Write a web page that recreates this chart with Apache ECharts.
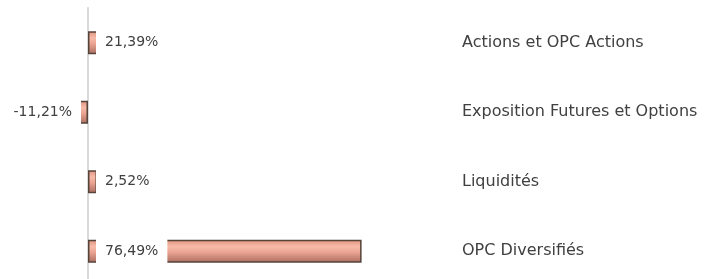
<!DOCTYPE html>
<html lang="fr">
<head>
    <meta charset="UTF-8">
    <title>Répartition</title>
    <style>
        html, body { margin: 0; padding: 0; background: #fff; }
        .box { width: 705px; height: 279px; }
    </style>
</head>
<body>
    <div class="box"></div>
    <script src="https://cdn.jsdelivr.net/npm/echarts@6/dist/echarts.min.js"></script>
    <script>
        var categories = ['Actions et OPC Actions', 'Exposition Futures et Options', 'Liquidités', 'OPC Diversifiés'];
        var values = [21.39, -11.21, 2.52, 76.49];

        var myChart = echarts.init(document.getElementsByClassName('box')[0]);

        function fmt(v) {
            return v.toFixed(2).replace('.', ',') + '%';
        }

        // bar fill with a bevel-ish look
        var barColor = new echarts.graphic.LinearGradient(0, 0, 0, 1, [
            { offset: 0, color: '#e0907e' },
            { offset: 0.3, color: '#f7bba9' },
            { offset: 0.55, color: '#eba391' },
            { offset: 1, color: '#a86c60' }
        ]);

        var seriesData = [];
        values.forEach(function (v) {
            var neg = v < 0;
            seriesData.push({
                value: v,
                label: {
                    position: neg ? 'insideRight' : 'insideLeft',
                    distance: neg ? 7 : 8
                }
            });
        });

        var option = {
            animation: false,
            grid: {
                left: 0,
                top: 8,
                width: 455,
                height: 278,
                outerBoundsMode: 'none'
            },
            xAxis: {
                type: 'value',
                min: -24.6,
                max: 102.6,
                show: false,
                splitLine: { show: false }
            },
            yAxis: [{
                type: 'category',
                data: categories,
                inverse: true,
                position: 'left',
                axisLine: { onZero: true, lineStyle: { color: '#d9d9d9', width: 2 } },
                axisTick: { show: false },
                axisLabel: { show: false }
            }, {
                type: 'category',
                data: categories,
                inverse: true,
                position: 'right',
                axisLine: { show: false },
                axisTick: { show: false },
                axisLabel: {
                    margin: 7,
                    color: '#404040',
                    fontSize: 16,
                    fontFamily: 'DejaVu Sans'
                }
            }],
            series: [{
                type: 'bar',
                yAxisIndex: 0,
                barWidth: 23,
                data: seriesData,
                itemStyle: {
                    color: barColor,
                    borderColor: '#55443a',
                    borderWidth: 1.5
                },
                label: {
                    show: true,
                    color: '#404040',
                    fontSize: 14,
                    fontFamily: 'DejaVu Sans',
                    backgroundColor: '#fff',
                    padding: [6, 9, 6, 9],
                    formatter: function (p) { return fmt(p.value); }
                }
            }]
        };
        myChart.setOption(option);
    </script>
</body>
</html>
